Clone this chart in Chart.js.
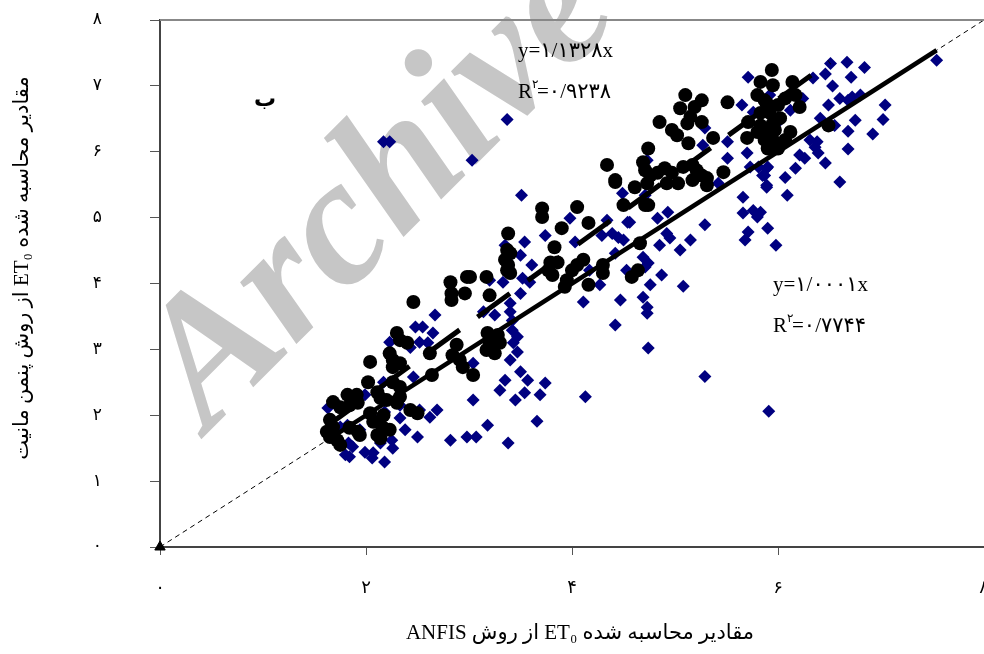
<!DOCTYPE html>
<html>
<head>
<meta charset="utf-8">
<script src="https://cdn.jsdelivr.net/npm/chart.js@4.4.1/dist/chart.umd.min.js"></script>
<style>
  html, body { margin: 0; padding: 0; background: #fff; }
</style>
</head>
<body>
<canvas id="chart" width="984" height="654"></canvas>
<script>
// ET0 از روش ANFIS (محور افقی) در برابر ET0 از روش پنمن مانیت (محور عمودی)
const circleX = [
  2.46,2.83,2.30,2.33,2.40,2.23,2.26,2.33,2.26,2.04,
  2.02,2.62,2.88,2.84,2.91,2.94,2.64,3.04,2.26,2.33,
  2.11,2.14,1.82,1.91,1.68,1.75,1.84,1.92,2.33,2.30,
  2.20,2.43,2.50,2.04,2.17,2.07,2.16,2.23,1.65,1.68,
  1.62,1.65,1.72,1.75,1.84,1.92,1.94,2.11,2.14,2.82,
  2.83,2.98,2.96,3.17,3.20,4.42,4.61,3.71,3.71,4.05,
  4.50,4.71,3.90,4.16,3.38,3.37,3.40,3.35,3.38,3.37,
  3.40,3.83,3.79,3.86,3.77,3.81,4.05,4.11,4.00,3.95,
  4.30,4.30,4.16,3.93,4.66,4.64,4.58,3.01,3.18,3.20,
  3.28,3.30,3.17,3.25,5.94,5.95,5.10,5.26,5.51,5.05,
  5.19,5.15,4.85,4.97,5.02,5.12,5.26,5.13,5.37,5.71,
  5.70,5.89,5.92,5.83,5.95,5.85,5.92,5.95,5.90,4.74,
  4.34,4.69,4.71,4.76,4.83,4.42,4.90,4.97,5.08,5.17,
  5.21,5.26,5.31,5.17,4.92,5.03,5.31,5.47,4.73,4.74,
  6.14,6.07,6.21,6.49,6.12,5.87,6.00,6.02,5.83,5.97,
  6.07,5.87,6.00,5.80,5.80,5.83,6.17
];
const circleY = [
  3.72,3.75,3.25,3.14,3.10,2.94,2.84,2.79,2.73,2.81,
  2.50,2.94,3.07,2.91,2.84,2.73,2.61,2.61,2.50,2.43,
  2.35,2.26,2.31,2.31,2.20,2.12,2.15,2.19,2.28,2.19,
  2.23,2.08,2.03,2.03,2.00,1.90,1.82,1.78,1.93,1.82,
  1.75,1.67,1.62,1.55,1.81,1.75,1.70,1.70,1.65,4.02,
  3.85,4.10,3.85,4.10,3.82,5.54,5.46,5.14,5.01,5.16,
  5.19,5.19,4.84,4.92,4.76,4.51,4.46,4.36,4.28,4.20,
  4.16,4.55,4.32,4.32,4.20,4.13,4.28,4.36,4.20,4.05,
  4.28,4.16,3.98,3.95,4.61,4.20,4.10,4.10,3.25,3.10,
  3.22,3.10,2.99,2.94,7.24,7.01,6.86,6.78,6.75,6.66,
  6.68,6.53,6.45,6.33,6.25,6.43,6.45,6.13,6.21,6.45,
  6.21,6.74,6.59,6.59,6.43,6.33,6.22,6.18,6.05,6.05,
  5.80,5.84,5.72,5.64,5.68,5.57,5.75,5.68,5.77,5.80,
  5.72,5.64,5.60,5.57,5.52,5.52,5.49,5.69,5.52,5.19,
  7.06,6.81,6.68,6.40,6.30,6.78,6.71,6.51,6.40,6.33,
  6.18,6.18,6.05,6.30,6.86,7.06,6.86
];
const diamondX = [
  2.67,2.48,2.55,2.65,2.52,2.60,2.23,2.43,3.04,2.46,
  2.17,3.04,1.63,1.99,2.52,2.69,2.62,2.33,1.75,1.82,
  2.50,2.82,2.98,1.83,1.87,1.99,2.07,2.06,2.18,1.84,
  2.25,2.26,2.14,1.70,1.80,1.94,2.09,2.18,2.33,2.38,
  3.51,4.49,3.98,4.34,4.54,4.29,4.39,4.45,4.50,3.54,
  4.03,4.42,4.69,4.74,3.61,4.17,4.53,4.71,3.52,3.59,
  3.33,3.20,3.50,4.11,3.40,3.14,3.25,3.40,3.42,4.42,
  4.69,4.73,4.73,3.42,3.47,3.43,3.47,4.74,5.71,5.65,
  5.76,5.29,5.27,5.51,5.70,5.51,5.73,5.81,5.90,5.85,
  5.89,4.73,4.71,5.42,4.93,4.83,4.56,5.66,5.66,5.76,
  5.80,5.29,5.71,5.90,4.92,6.67,6.51,6.84,6.34,6.46,
  6.71,6.53,6.60,6.68,6.72,6.49,7.04,7.02,6.68,6.92,
  6.38,6.36,6.39,6.68,6.26,6.46,6.17,6.07,5.89,5.87,
  5.89,6.60,6.09,7.54,5.83,5.92,6.24,6.15,2.17,2.23,
  3.37,3.03,4.13,5.29,5.91,5.08,3.66,3.38,3.18,3.07,
  3.40,3.50,3.35,3.57,3.30,3.54,3.74,3.69,3.45,4.85,
  4.95,5.05,5.15,4.87,4.76,4.47,4.27,5.98,5.68,6.21,
  6.31,6.75,6.80,6.41,6.55,6.02,6.12,3.74,3.35,3.50
];
const diamondY = [
  3.52,3.34,3.34,3.25,3.11,3.10,3.11,3.03,2.79,2.58,
  2.50,2.23,2.11,2.31,2.08,2.08,1.97,1.96,1.82,1.85,
  1.67,1.62,1.67,1.58,1.52,1.44,1.43,1.35,1.29,1.37,
  1.62,1.50,1.58,1.62,1.40,1.78,1.93,2.05,2.15,1.78,
  5.34,5.37,4.99,4.96,4.93,4.73,4.76,4.70,4.66,4.63,
  4.63,4.46,4.40,4.31,4.28,4.20,4.20,4.25,4.08,4.02,
  4.02,4.05,3.85,3.72,3.70,3.57,3.52,3.57,3.44,3.37,
  3.79,3.64,3.55,3.29,3.19,3.10,2.96,3.02,7.13,6.71,
  6.60,6.36,6.10,6.15,5.98,5.90,5.77,5.77,5.77,5.64,
  5.46,5.87,5.34,5.52,5.08,4.99,4.93,5.31,5.07,5.11,
  5.01,4.89,4.78,4.84,4.76,7.36,7.34,7.28,7.12,7.18,
  7.13,7.00,6.81,6.78,6.83,6.71,6.71,6.49,6.31,6.27,
  6.15,6.07,5.98,6.04,5.90,5.83,5.75,5.61,5.75,5.64,
  5.49,5.54,5.34,7.39,5.08,6.86,6.81,6.89,6.15,6.15,
  6.49,5.87,2.28,2.59,2.06,3.96,1.91,1.58,1.85,1.67,
  2.84,2.66,2.53,2.53,2.38,2.34,2.49,2.31,2.23,4.58,
  4.69,4.51,4.66,4.13,3.98,3.75,3.98,4.58,4.66,5.95,
  6.18,6.48,6.86,6.51,6.40,6.48,6.63,4.73,4.58,4.43
];

const xTickLabels = ['۰', '۲', '۴', '۶', '۸'];
const yTickLabels = ['۰', '۱', '۲', '۳', '۴', '۵', '۶', '۷', '۸'];

// خطوط برازش: شیب و بازه x
const circleFit = { slope: 1.1328, from: 1.62, to: 6.5, eq: 'y=۱/۱۳۲۸x', r2: '۰/۹۲۳۸' };
const diamondFit = { slope: 1.0001, from: 1.62, to: 7.54, eq: 'y=۱/۰۰۰۱x', r2: '۰/۷۷۴۴' };

const xTitle = 'مقادیر محاسبه شده ET₀ از روش ANFIS';
const yTitle = 'مقادیر محاسبه شده ET₀ از روش پنمن مانیت';
const panelLabel = 'ب';

const faFont = '"Liberation Serif", "DejaVu Sans", serif';

function toPoints(xs, ys) {
  return xs.map((x, i) => ({ x: x, y: ys[i] }));
}
function fitLine(f) {
  return [{ x: f.from, y: f.slope * f.from }, { x: f.to, y: f.slope * f.to }];
}

function drawEquation(ctx, f, x, y) {
  ctx.fillText(f.eq, x, y);
  const y2 = y + 41;
  ctx.fillText('R', x, y2);
  const w = ctx.measureText('R').width;
  ctx.save();
  ctx.font = '12px ' + faFont;
  ctx.fillText('۲', x + w, y2 - 10);
  ctx.restore();
  ctx.fillText('=' + f.r2, x + w + 5, y2);
}

const decorations = {
  id: 'decorations',
  beforeDraw(chart) {
    const { ctx, chartArea } = chart;
    ctx.save();
    ctx.translate(chartArea.left + 222, chartArea.top + 172);
    ctx.rotate(-45 * Math.PI / 180);
    ctx.font = 'italic bold 182px "Liberation Serif"';
    ctx.fillStyle = '#c6c6c6';
    ctx.textAlign = 'center';
    ctx.textBaseline = 'middle';
    ctx.fillText('Archive', 0, 0);
    ctx.restore();
  },
  afterDraw(chart) {
    const { ctx, chartArea } = chart;
    ctx.save();
    // قاب بالا
    ctx.strokeStyle = '#888';
    ctx.lineWidth = 2;
    ctx.beginPath();
    ctx.moveTo(chartArea.left, chartArea.top);
    ctx.lineTo(chartArea.right, chartArea.top);
    ctx.stroke();

    ctx.fillStyle = '#000';
    ctx.direction = 'ltr';
    ctx.textAlign = 'left';
    ctx.textBaseline = 'alphabetic';
    ctx.font = '21px ' + faFont;
    drawEquation(ctx, circleFit, 518, 57);
    drawEquation(ctx, diamondFit, 773, 291);

    ctx.font = 'bold 22px ' + faFont;
    ctx.textAlign = 'center';
    ctx.fillText(panelLabel, 265, 106);

    ctx.direction = 'rtl';
    ctx.textAlign = 'center';
    ctx.textBaseline = 'middle';
    ctx.font = '21px ' + faFont;
    ctx.fillText(xTitle, 580, 633);
    ctx.translate(22, 268);
    ctx.rotate(-Math.PI / 2);
    ctx.fillText(yTitle, 0, 0);
    ctx.restore();
  }
};

new Chart(document.getElementById('chart'), {
  type: 'scatter',
  data: {
    datasets: [
      {
        data: fitLine(circleFit), showLine: true,
        borderColor: '#000', borderWidth: 5, borderDash: [40, 22],
        pointRadius: 0, order: 0
      },
      {
        data: fitLine(diamondFit), showLine: true,
        borderColor: '#000', borderWidth: 4.5,
        pointRadius: 0, order: 1
      },
      {
        data: toPoints(circleX, circleY),
        pointStyle: 'circle', pointRadius: 7,
        backgroundColor: '#000', borderWidth: 0, order: 2
      },
      {
        data: toPoints(diamondX, diamondY),
        pointStyle: 'rectRot', pointRadius: 6.5,
        backgroundColor: '#000080', borderWidth: 0, order: 3
      },
      {
        data: [{ x: 0, y: 0 }, { x: 8, y: 8 }], showLine: true,
        borderColor: '#000', borderWidth: 1, borderDash: [5, 4],
        pointStyle: 'triangle', pointRadius: [6, 0],
        backgroundColor: '#000', clip: false, order: 4
      }
    ]
  },
  options: {
    responsive: false,
    animation: false,
    devicePixelRatio: 1,
    layout: { autoPadding: false, padding: { top: 20, right: 0, left: 0, bottom: 0 } },
    plugins: { legend: { display: false }, tooltip: { enabled: false } },
    events: [],
    scales: {
      x: {
        type: 'linear', min: 0, max: 8,
        ticks: {
          stepSize: 2, autoSkip: false, maxRotation: 0, padding: 22,
          color: '#000', font: { family: faFont, size: 18 },
          callback: v => xTickLabels[v / 2]
        },
        grid: { drawOnChartArea: false, drawTicks: true, tickLength: 8, color: '#555' },
        border: { color: '#444', width: 2 },
        afterFit: s => { s.height = 107; s.paddingLeft = 0; s.paddingRight = 0; }
      },
      y: {
        type: 'linear', min: 0, max: 8,
        ticks: {
          stepSize: 1, autoSkip: false, padding: 48,
          color: '#000', font: { family: faFont, size: 17 },
          callback: v => yTickLabels[v]
        },
        grid: { drawOnChartArea: false, drawTicks: true, tickLength: 10, color: '#555' },
        border: { color: '#444', width: 2 },
        afterFit: s => { s.width = 160; s.paddingTop = 0; s.paddingBottom = 0; }
      }
    }
  },
  plugins: [decorations]
});
</script>
</body>
</html>
